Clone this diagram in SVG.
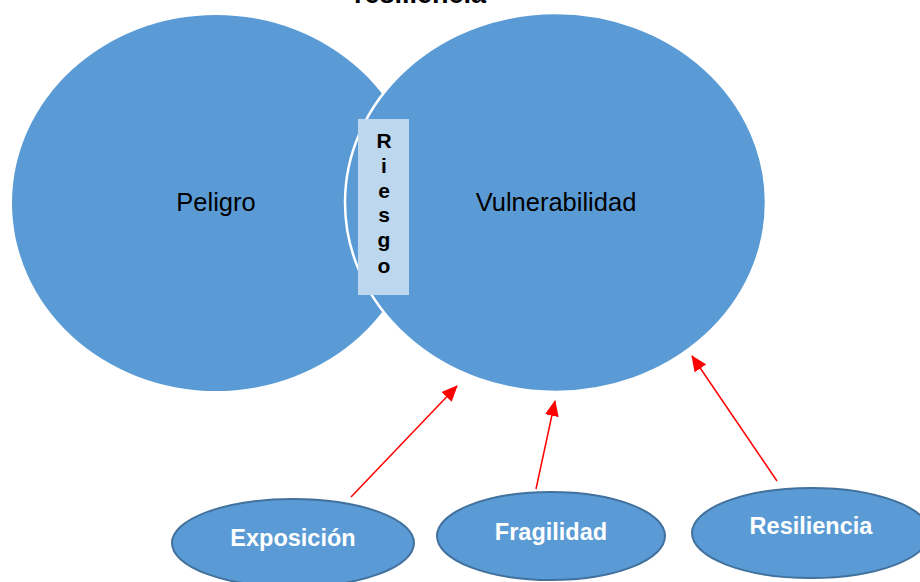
<svg xmlns="http://www.w3.org/2000/svg" width="920" height="582" viewBox="0 0 920 582">
  <style>
    .big { fill: #5B9BD5; }
    .bigtxt { font-family: "Liberation Sans", Arial, sans-serif; font-size: 25.5px; fill: #000; text-anchor: middle; }
    .small { fill: #5B9BD5; stroke: #41719C; stroke-width: 2; }
    .smalltxt { font-family: "Liberation Sans", Arial, sans-serif; font-size: 23.5px; font-weight: bold; fill: #fff; text-anchor: middle; }
    .riesgo { font-family: "Liberation Sans", Arial, sans-serif; font-size: 21px; font-weight: bold; fill: #000; text-anchor: middle; }
    .title { font-family: "Liberation Sans", Arial, sans-serif; font-size: 27px; font-weight: bold; fill: #000; text-anchor: middle; }
    .arrow { stroke: #FF0000; stroke-width: 1.5; fill: none; marker-end: url(#ah); }
  </style>
  <defs>
    <marker id="ah" viewBox="0 0 16 14" refX="15" refY="7" markerWidth="16" markerHeight="14" markerUnits="userSpaceOnUse" orient="auto">
      <path d="M0,0 L16,7 L0,14 z" fill="#FF0000"/>
    </marker>
  </defs>
  <rect width="920" height="582" fill="#fff"/>
  <text x="420" y="2.5" class="title">resiliencia</text>
  <g id="peligro">
    <ellipse class="big" cx="216" cy="203" rx="204" ry="188"/>
    <text class="bigtxt" x="216" y="211">Peligro</text>
  </g>
  <g id="vulnerabilidad">
    <ellipse class="big" cx="555.5" cy="202.5" rx="210.5" ry="189.5" stroke="#fff" stroke-width="2.5"/>
    <text class="bigtxt" x="556" y="211">Vulnerabilidad</text>
  </g>
  <g id="riesgo">
    <rect x="358" y="119" width="51" height="176" fill="#BDD7EE"/>
    <text class="riesgo" x="384" y="148">R</text>
    <text class="riesgo" x="384" y="173">i</text>
    <text class="riesgo" x="384" y="198">e</text>
    <text class="riesgo" x="384" y="222">s</text>
    <text class="riesgo" x="384" y="247">g</text>
    <text class="riesgo" x="384" y="273">o</text>
  </g>
  <g id="exposicion">
    <ellipse class="small" cx="293" cy="543" rx="121" ry="44"/>
    <text class="smalltxt" x="293" y="546">Exposición</text>
  </g>
  <g id="fragilidad">
    <ellipse class="small" cx="551" cy="536" rx="114" ry="44"/>
    <text class="smalltxt" x="551" y="540">Fragilidad</text>
  </g>
  <g id="resiliencia">
    <ellipse class="small" cx="811" cy="533" rx="119" ry="45"/>
    <text class="smalltxt" x="811" y="534">Resiliencia</text>
  </g>
  <g id="connectors">
    <line class="arrow" x1="351" y1="497" x2="457" y2="386"/>
    <line class="arrow" x1="536" y1="489" x2="555" y2="401"/>
    <line class="arrow" x1="777" y1="481" x2="692" y2="356"/>
  </g>
</svg>
